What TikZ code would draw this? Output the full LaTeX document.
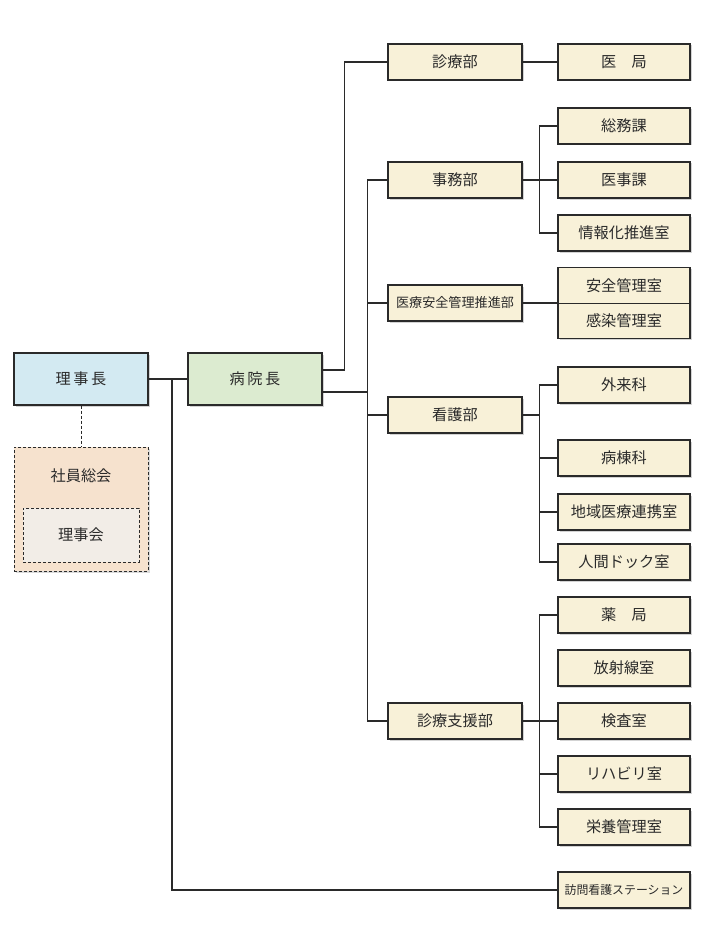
\documentclass[tikz,border=0pt]{standalone}
\usepackage{fontspec}
\newfontfamily\jp{Noto Sans CJK JP}
\usetikzlibrary{shadows}
\definecolor{cream}{HTML}{F8F1D8}
\definecolor{bluebox}{HTML}{D3EAF2}
\definecolor{greenbox}{HTML}{DCEBD0}
\definecolor{peach}{HTML}{F6E2CE}
\definecolor{innerbox}{HTML}{F2EDE7}
\definecolor{ink}{HTML}{2A2A2A}
\tikzset{
  orgbox/.style={draw=ink, line width=1.2pt, fill=cream, minimum width=134pt, minimum height=36pt,
    inner sep=0pt, font=\jp\fontsize{15.2}{17}\selectfont, text=ink,
    drop shadow={shadow xshift=1.5pt, shadow yshift=-1.5pt, opacity=0.35}},
  subbox/.style={orgbox, minimum width=132pt},
  topbox/.style={orgbox, minimum height=52pt},
  conn/.style={draw=ink, line width=1.2pt},
  dashbox/.style={draw=ink, line width=1pt, dashed, dash pattern=on 3pt off 2pt, inner sep=0pt},
}
\begin{document}
\begin{tikzpicture}[x=1pt,y=-1pt]
\useasboundingbox (0,0) rectangle (702,936);
% top-level
\node[topbox, fill=bluebox] (rj) at (81,379) {理\,事\,長};
\node[topbox, fill=greenbox] (bi) at (255,379) {病\,院\,長};
% 社員総会
\node[dashbox, fill=peach, minimum width=134pt, minimum height=124pt,
  drop shadow={shadow xshift=1.5pt, shadow yshift=-1.5pt, opacity=0.3}] (shain) at (81,509) {};
\node[font=\jp\fontsize{15.2}{17}\selectfont, text=ink] (shaintxt) at (81,476) {社員総会};
\node[dashbox, fill=innerbox, minimum width=116pt, minimum height=54pt,
  font=\jp\fontsize{15.2}{17}\selectfont, text=ink] (rijikai) at (81,535) {理事会};
% departments
\node[orgbox] (shinryo) at (455,62) {診療部};
\node[orgbox] (jimu) at (455,180) {事務部};
\node[orgbox, font=\jp\fontsize{13.1}{15}\selectfont] (iryoanzen) at (455,303) {医療安全管理推進部};
\node[orgbox] (kango) at (455,415) {看護部};
\node[orgbox] (shien) at (455,721) {診療支援部};
% sub units
\node[subbox] (ikyoku) at (624,62) {医　局};
\node[subbox] (somu) at (624,126) {総務課};
\node[subbox] (iji) at (624,180) {医事課};
\node[subbox] (joho) at (624,233) {情報化推進室};
\node[subbox, minimum height=35.5pt] (anzen) at (624,285.5) {安全管理室};
\node[subbox, minimum height=35.5pt] (kansen) at (624,321) {感染管理室};
\node[subbox] (gairai) at (624,385) {外来科};
\node[subbox] (byoto) at (624,458) {病棟科};
\node[subbox] (chiiki) at (624,512) {地域医療連携室};
\node[subbox] (ningen) at (624,562) {人間ドック室};
\node[subbox] (yakkyoku) at (624,615) {薬　局};
\node[subbox] (hoshasen) at (624,668) {放射線室};
\node[subbox] (kensa) at (624,721) {検査室};
\node[subbox] (reha) at (624,774) {リハビリ室};
\node[subbox] (eiyo) at (624,827) {栄養管理室};
\node[subbox, font=\jp\fontsize{11.9}{14}\selectfont] (homon) at (624,890) {訪問看護ステーション};
% connectors
\draw[conn, dashed, dash pattern=on 3pt off 2pt, line width=1pt] (rj.south) -- (shain.north);
\draw[conn] (rj.east) -- (bi.west);
\coordinate (j1) at (172,379);
\draw[conn] (j1) |- (homon.west);
\draw[conn] ([yshift=9pt]bi.east) -- ++(22,0) |- (shinryo.west);
\coordinate (trunk) at (368,392);
\draw[conn] ([yshift=-13pt]bi.east) -- (trunk);
\draw[conn] (jimu.west) -- ++(-20,0) |- (shien.west);
\draw[conn] (iryoanzen.west) -- ++(-20,0);
\draw[conn] (kango.west) -- ++(-20,0);
\draw[conn] (shinryo.east) -- (ikyoku.west);
\draw[conn] (jimu.east) -- (iji.west);
\draw[conn] (somu.west) -- ++(-18,0) |- (joho.west);
\draw[conn] (iryoanzen.east) -- (iryoanzen.east -| anzen.west);
\coordinate (kj) at (540,415);
\draw[conn] (kango.east) -- (kj);
\draw[conn] (gairai.west) -- ++(-18,0) |- (ningen.west);
\draw[conn] (byoto.west) -- ++(-18,0);
\draw[conn] (chiiki.west) -- ++(-18,0);
\draw[conn] (shien.east) -- (kensa.west);
\draw[conn] (yakkyoku.west) -- ++(-18,0) |- (eiyo.west);
\draw[conn] (reha.west) -- ++(-18,0);
\end{tikzpicture}
\end{document}
